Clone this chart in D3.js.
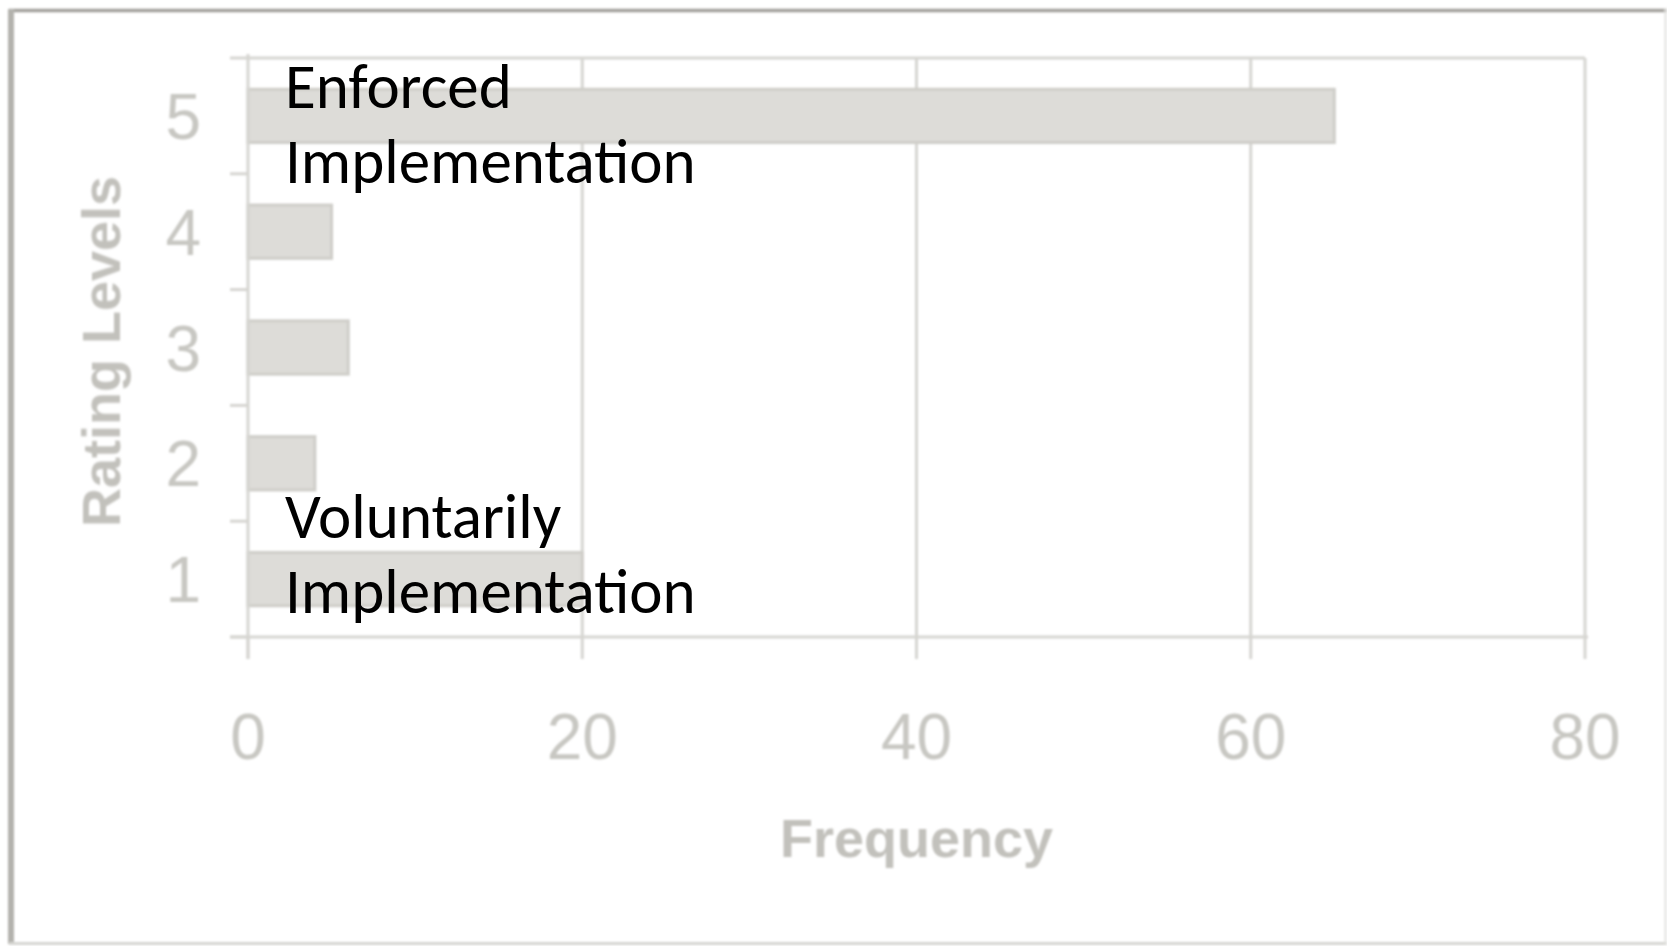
<!DOCTYPE html>
<html>
<head>
<meta charset="utf-8">
<script src="https://cdn.jsdelivr.net/npm/d3@7"></script>
<style>
  html, body { margin: 0; padding: 0; background: #ffffff; }
  svg { display: block; }
</style>
</head>
<body>
<script>
// Rating levels and how often each was chosen
const levels = ["1", "2", "3", "4", "5"];
const frequency = [20, 4, 6, 5, 65];
const xTicks = [0, 20, 40, 60, 80];
const xTitle = "Frequency";
const yTitle = "Rating Levels";
const topNote = ["Enforced", "Implementation"];
const bottomNote = ["Voluntarily", "Implementation"];

const W = 1667, H = 946;
const plot = { left: 248, right: 1585, top: 58, bottom: 637 };

const svg = d3.select("body").append("svg")
  .attr("width", W).attr("height", H);

const defs = svg.append("defs");
defs.append("filter").attr("id", "soft")
  .attr("x", "-5%").attr("y", "-5%").attr("width", "110%").attr("height", "110%")
  .append("feGaussianBlur").attr("stdDeviation", 1.1);

// outer frame
const frame = svg.append("g").attr("filter", "url(#soft)");
frame.append("line").attr("x1", 9).attr("x2", W).attr("y1", 10.5).attr("y2", 10.5)
  .attr("stroke", "#a2a19c").attr("stroke-width", 3.5);
frame.append("line").attr("x1", 11).attr("x2", 11).attr("y1", 9).attr("y2", 944)
  .attr("stroke", "#b3b2ad").attr("stroke-width", 6);
frame.append("line").attr("x1", 9).attr("x2", W).attr("y1", 943.5).attr("y2", 943.5)
  .attr("stroke", "#d6d6d2").attr("stroke-width", 3);
frame.append("line").attr("x1", 1665.5).attr("x2", 1665.5).attr("y1", 9).attr("y2", 944)
  .attr("stroke", "#e2e2df").attr("stroke-width", 2);

const x = d3.scaleLinear().domain([0, 80]).range([plot.left, plot.right]);
const y = d3.scaleBand().domain(levels.slice().reverse())
  .range([plot.top, plot.bottom]).paddingInner(0.54).paddingOuter(0.27);

const gridColor = "#d6d5d1";
const labelColor = "#c8c7c2";

const chart = svg.append("g").attr("filter", "url(#soft)");

// plot-area top border
chart.append("line")
  .attr("x1", plot.left).attr("x2", plot.right)
  .attr("y1", plot.top).attr("y2", plot.top)
  .attr("stroke", gridColor).attr("stroke-width", 3);

// vertical gridlines (20, 40, 60, 80)
chart.selectAll("line.grid").data(xTicks.filter(t => t > 0)).join("line")
  .attr("class", "grid")
  .attr("x1", d => x(d)).attr("x2", d => x(d))
  .attr("y1", plot.top).attr("y2", plot.bottom)
  .attr("stroke", gridColor).attr("stroke-width", 3);

// bars
chart.selectAll("rect.bar").data(levels).join("rect")
  .attr("class", "bar")
  .attr("x", x(0))
  .attr("y", d => y(d))
  .attr("width", (d, i) => x(frequency[i]) - x(0))
  .attr("height", y.bandwidth())
  .attr("fill", "#dddcd8")
  .attr("stroke", "#cfcec9").attr("stroke-width", 3);

// category boundaries for y tick marks
const step = y.step();
const boundaries = levels.slice().reverse().map(d => y(d) - step * y.paddingInner() / 2);
const yEdges = [plot.top].concat(boundaries.slice(1), [plot.bottom]);

// y axis
chart.append("line")
  .attr("x1", plot.left).attr("x2", plot.left)
  .attr("y1", plot.top - 4).attr("y2", plot.bottom + 22)
  .attr("stroke", gridColor).attr("stroke-width", 3);
chart.selectAll("line.ytick").data(yEdges).join("line")
  .attr("class", "ytick")
  .attr("x1", plot.left - 18).attr("x2", plot.left)
  .attr("y1", d => d).attr("y2", d => d)
  .attr("stroke", gridColor).attr("stroke-width", 3);

// x axis
chart.append("line")
  .attr("x1", plot.left - 18).attr("x2", plot.right + 3)
  .attr("y1", plot.bottom).attr("y2", plot.bottom)
  .attr("stroke", gridColor).attr("stroke-width", 3);
chart.selectAll("line.xtick").data(xTicks).join("line")
  .attr("class", "xtick")
  .attr("x1", d => x(d)).attr("x2", d => x(d))
  .attr("y1", plot.bottom).attr("y2", plot.bottom + 22)
  .attr("stroke", gridColor).attr("stroke-width", 3);

// tick labels
chart.selectAll("text.xlab").data(xTicks).join("text")
  .attr("class", "xlab")
  .attr("x", d => x(d)).attr("y", 759)
  .attr("text-anchor", "middle")
  .attr("font-family", "'Liberation Sans', Arial, sans-serif")
  .attr("font-size", 64)
  .attr("fill", labelColor)
  .text(d => d);

chart.selectAll("text.ylab").data(levels).join("text")
  .attr("class", "ylab")
  .attr("x", 201)
  .attr("y", d => y(d) + y.bandwidth() / 2 + 23)
  .attr("text-anchor", "end")
  .attr("font-family", "'Liberation Sans', Arial, sans-serif")
  .attr("font-size", 64)
  .attr("fill", labelColor)
  .text(d => d);

// axis titles
chart.append("text")
  .attr("x", (plot.left + plot.right) / 2).attr("y", 857)
  .attr("text-anchor", "middle")
  .attr("font-family", "'Liberation Sans', Arial, sans-serif")
  .attr("font-weight", "bold")
  .attr("font-size", 54)
  .attr("fill", "#c2c1bc")
  .text(xTitle);

chart.append("text")
  .attr("transform", `translate(120, ${(plot.top + plot.bottom) / 2 + 4}) rotate(-90)`)
  .attr("text-anchor", "middle")
  .attr("font-family", "'Liberation Sans', Arial, sans-serif")
  .attr("font-weight", "bold")
  .attr("font-size", 54)
  .attr("fill", "#c2c1bc")
  .text(yTitle);

// annotations for the two ends of the scale
function note(lines, baselines) {
  const t = svg.append("text")
    .attr("font-family", "Carlito, Calibri, Lato, sans-serif")
    .attr("font-size", 63)
    .attr("fill", "#000000");
  lines.forEach((s, i) => {
    t.append("tspan").attr("x", 285).attr("y", baselines[i]).text(s);
  });
}
note(topNote, [y("5") + 19, y("5") + 94]);
note(bottomNote, [y("1") - 14, y("1") + 61]);
</script>
</body>
</html>
